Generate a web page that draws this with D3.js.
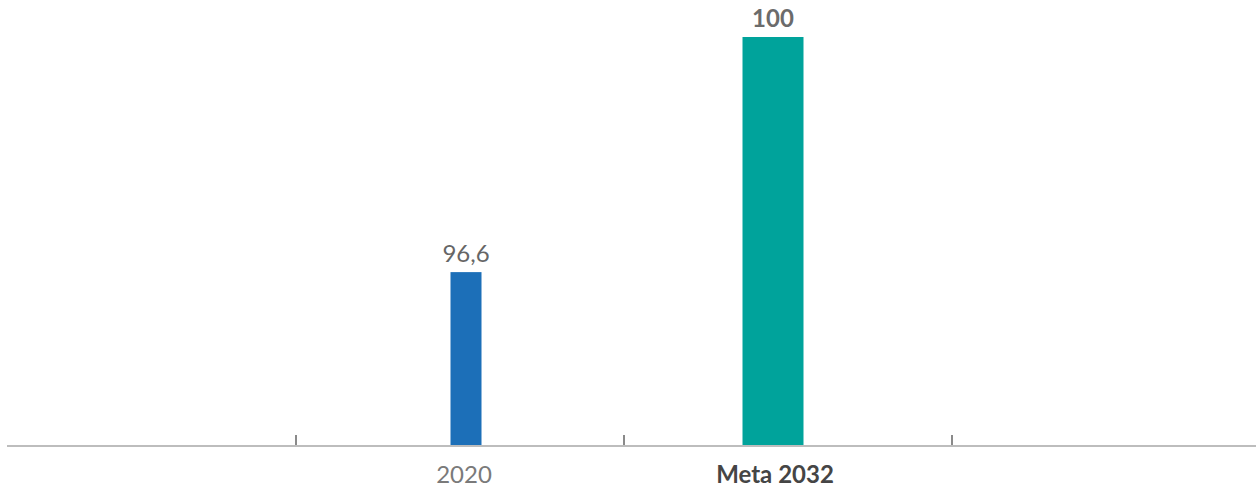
<!DOCTYPE html>
<html>
<head>
<meta charset="utf-8">
<script src="https://cdn.jsdelivr.net/npm/d3@7"></script>
<style>
  html, body { margin: 0; padding: 0; background: #fff; }
  svg { display: block; font-family: "Lato", "Noto Sans", sans-serif; }
</style>
</head>
<body>
<svg id="chart" width="1258" height="488"></svg>
<script>
// Categories, values and value labels
const categories = ["2020", "Meta 2032"];
const values = [96.6, 100];
const valueLabels = ["96,6", "100"];
const barColors = ["#1c6fb8", "#00a39b"];
const barWidths = [31, 61];
const barShift = [6, -15];     // horizontal offset of each bar from its band centre
const bold = [false, true];

const W = 1258, H = 488;
const baseY = 445, topY = 37;

const svg = d3.select("#chart");

const x = d3.scaleBand().domain(categories).range([296, 952]).paddingInner(0).paddingOuter(0);
const y = d3.scaleLinear().domain([94.1, 100]).range([baseY, topY]);

const data = categories.map((c, i) => ({
  cat: c, value: values[i], label: valueLabels[i],
  color: barColors[i], w: barWidths[i], shift: barShift[i], bold: bold[i]
}));
const cx = d => x(d.cat) + x.bandwidth() / 2 + d.shift;

// bars
svg.append("g").selectAll("rect").data(data).join("rect")
  .attr("x", d => cx(d) - d.w / 2)
  .attr("y", d => y(d.value))
  .attr("width", d => d.w)
  .attr("height", d => y.range()[0] - y(d.value))
  .attr("fill", d => d.color);

// baseline
svg.append("line")
  .attr("x1", 7).attr("x2", 1256)
  .attr("y1", baseY + 1).attr("y2", baseY + 1)
  .attr("stroke", "#bdbdbd").attr("stroke-width", 2);

// category boundary ticks
const bounds = categories.map(c => x(c)).concat([x.range()[1]]);
svg.append("g").selectAll("line").data(bounds).join("line")
  .attr("x1", d => d).attr("x2", d => d)
  .attr("y1", baseY - 10).attr("y2", baseY)
  .attr("stroke", "#8a8a8a").attr("stroke-width", 2);

// category labels
svg.append("g").selectAll("text").data(data).join("text")
  .attr("x", d => cx(d) - 2 + (d.bold ? 4 : 0))
  .attr("y", 483)
  .attr("text-anchor", "middle")
  .attr("font-size", 24)
  .attr("font-weight", d => d.bold ? 700 : 400)
  .attr("fill", d => d.bold ? "#454545" : "#7a7a7a")
  .text(d => d.cat);

// value labels
svg.append("g").selectAll("text").data(data).join("text")
  .attr("x", d => cx(d))
  .attr("y", d => y(d.value) - 10)
  .attr("text-anchor", "middle")
  .attr("font-size", 24)
  .attr("font-weight", d => d.bold ? 700 : 400)
  .attr("fill", d => d.bold ? "#6b6b6b" : "#666666")
  .text(d => d.label);
</script>
</body>
</html>
